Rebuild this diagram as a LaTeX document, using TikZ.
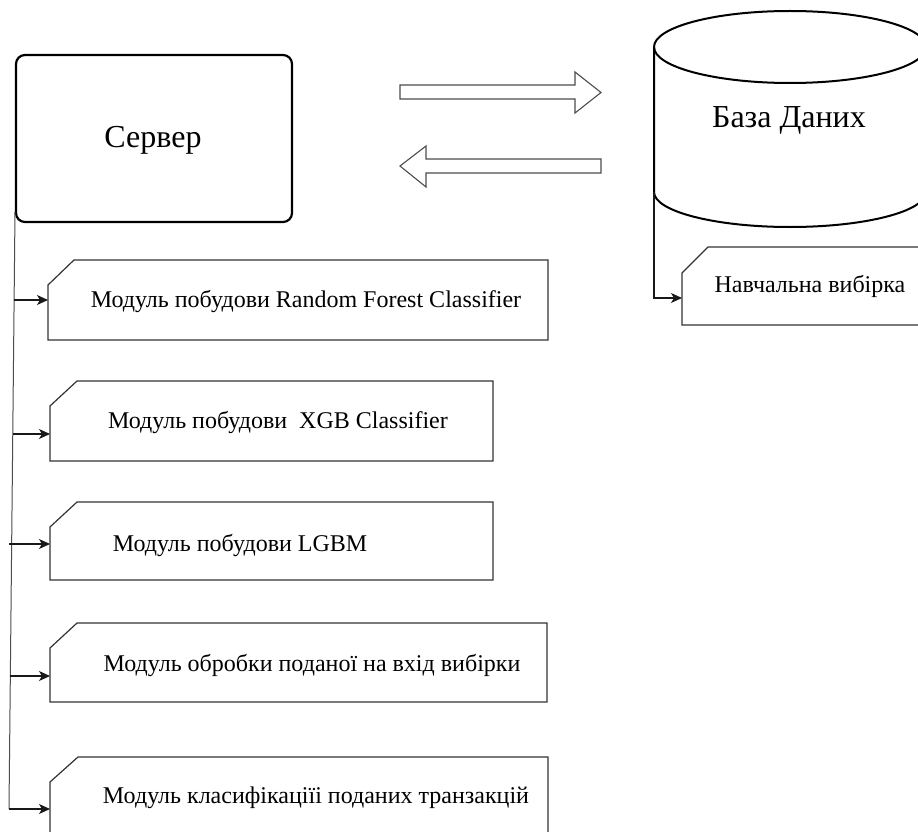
\documentclass[tikz,border=0pt]{standalone}
\usepackage{fontspec}
\setmainfont{Liberation Serif}
\usetikzlibrary{arrows.meta}
\tikzset{
  boxline/.style={draw=black!80, line width=1.2pt},
  trunk/.style={draw=black!70, line width=1pt},
  conn/.style={draw=black!90, line width=1.1pt, -{Stealth[length=11pt,width=10pt,inset=3pt]}},
  blockarrow/.style={draw=black!70, line width=1.1pt, fill=white},
  modtext/.style={font=\fontsize{24}{28}\selectfont, inner sep=0pt},
  bigtext/.style={font=\fontsize{32}{38}\selectfont, inner sep=0pt},
}
\begin{document}
\begin{tikzpicture}[x=1pt,y=-1pt]
\useasboundingbox (0,0) rectangle (918,832);

% Server
\node[draw=black, line width=2.2pt, rounded corners=9pt, minimum width=276pt, minimum height=167pt, anchor=north west, inner sep=0pt, outer sep=0pt] (srv) at (16,55) {};
\node[bigtext] (srvt) at (153,140) {Сервер};

% Database cylinder
\coordinate (dbtl) at (654,47);
\coordinate (dbbl) at (654,192);
\draw[line width=2pt] (dbtl) -- (dbbl) arc[start angle=180, end angle=360, x radius=136pt, y radius=35pt] -- (926,47);
\draw[line width=2pt] (790,47) ellipse[x radius=136pt, y radius=36pt];
\node[bigtext] (db) at (789,120) {База Даних};

% Block arrows
\draw[blockarrow] (400,85) -- (575,85) -- (575,72) -- (601,92.5) -- (575,113) -- (575,99) -- (400,99) -- cycle;
\draw[blockarrow] (601,159) -- (426,159) -- (426,146) -- (400,166) -- (426,187) -- (426,173) -- (601,173) -- cycle;

% Training sample box
\draw[boxline] (708,247) -- (930,247) -- (930,325) -- (682,325) -- (682,273) -- cycle;
\coordinate (nvin) at (682,298);
\node[modtext] (nv) at (810,286) {Навчальна вибірка};
\draw[conn] (dbbl) |- (nvin);

% Module boxes
\draw[boxline] (74,260) -- (548,260) -- (548,340) -- (48,340) -- (48,285) -- cycle;
\node[modtext] (m1) at (306,301) {Модуль побудови Random Forest Classifier};
\coordinate (a1) at (48,300);

\draw[boxline] (77,381) -- (493,381) -- (493,461) -- (50,461) -- (50,406) -- cycle;
\node[modtext] (m2) at (278,422) {Модуль побудови\ \ XGB Classifier};
\coordinate (a2) at (50,434);

\draw[boxline] (77,502) -- (493,502) -- (493,580) -- (50,580) -- (50,527) -- cycle;
\node[modtext] (m3) at (240,545) {Модуль побудови LGBM};
\coordinate (a3) at (50,544);

\draw[boxline] (77,623) -- (547,623) -- (547,702) -- (50,702) -- (50,648) -- cycle;
\node[modtext] (m4) at (312,665) {Модуль обробки поданої на вхід вибірки};
\coordinate (a4) at (50,676);

\draw[boxline] (78,757) -- (548,757) -- (548,840) -- (50,840) -- (50,782) -- cycle;
\node[modtext] (m5) at (316,798) {Модуль класифікаціїі поданих транзакцій};
\coordinate (a5) at (50,809);

% Trunk
\coordinate (tt) at (15,212);
\coordinate (tb) at (9,809);
\draw[trunk] (tt) -- (tb);
\draw[conn] (14.2,300) -- (a1);
\draw[conn] (12.8,434) -- (a2);
\draw[conn] (9,544) -- (a3);
\draw[conn] (10.4,676) -- (a4);
\draw[conn] (tb) -- (a5);
\end{tikzpicture}
\end{document}
